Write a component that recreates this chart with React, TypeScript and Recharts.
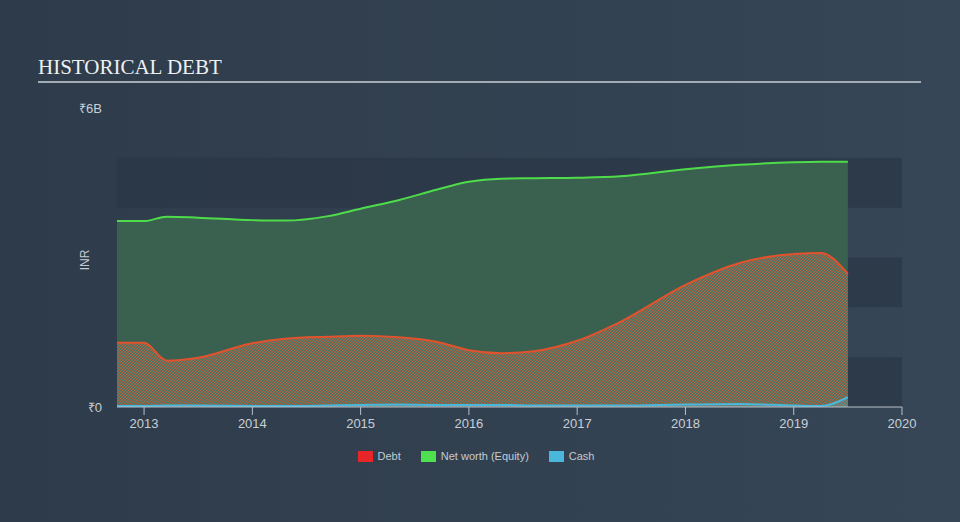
import React from 'react';
import { AreaChart, Area, XAxis, YAxis, ReferenceArea } from 'recharts';

const dates = [2012.75, 2013.0, 2013.21, 2013.5, 2014.0, 2014.3, 2014.7, 2015.0, 2015.35, 2015.7, 2016.0, 2016.3, 2016.6, 2017.0, 2017.4, 2018.0, 2018.5, 2019.0, 2019.25, 2019.5];
const netWorth = [3.73, 3.73, 3.82, 3.8, 3.75, 3.74, 3.83, 3.98, 4.15, 4.36, 4.52, 4.58, 4.59, 4.6, 4.63, 4.77, 4.86, 4.91, 4.92, 4.92];
const debt = [1.29, 1.29, 0.93, 0.99, 1.28, 1.37, 1.41, 1.43, 1.4, 1.31, 1.14, 1.08, 1.12, 1.33, 1.71, 2.45, 2.89, 3.07, 3.09, 2.67];
const cash = [0.02, 0.02, 0.03, 0.03, 0.02, 0.02, 0.03, 0.04, 0.05, 0.04, 0.04, 0.04, 0.03, 0.03, 0.03, 0.05, 0.06, 0.03, 0.02, 0.2];
const xTicks = [2013, 2014, 2015, 2016, 2017, 2018, 2019, 2020];
const yTicks = [0, 6];
const yTickLabels = ['₹0', '₹6B'];
const bands = [[0, 1], [2, 3], [4, 5]];
const legendItems = [
  { name: 'Debt', color: '#e8262a' },
  { name: 'Net worth (Equity)', color: '#4fe04f' },
  { name: 'Cash', color: '#49b8dc' },
];

const data = dates.map((d, i) => ({ date: d, netWorth: netWorth[i], debt: debt[i], cash: cash[i] }));

const font = '"Liberation Sans", Arial, sans-serif';

export default function App() {
  return (
    <div style={{ position: 'absolute', left: 0, top: 0, width: 960, height: 522, background: 'linear-gradient(to right, #2e3b4a, #364656)', overflow: 'hidden' }}>
      <div style={{ position: 'absolute', left: 38, top: 54, fontFamily: '"Liberation Serif", "Times New Roman", serif', fontSize: 21, color: '#eef0f2', lineHeight: '26px', whiteSpace: 'nowrap' }}>HISTORICAL DEBT</div>
      <div style={{ position: 'absolute', left: 38, top: 81, width: 883, height: 2, background: '#a3abb4' }} />
      <div style={{ position: 'absolute', left: 85, top: 260, transform: 'translate(-50%, -50%) rotate(-90deg)', fontFamily: font, fontSize: 12, color: '#c3cad2' }}>INR</div>
      <AreaChart width={960} height={522} data={data} margin={{ top: 108, right: 58, bottom: 85, left: 0 }}>
        <defs>
          <pattern id="hatch" patternUnits="userSpaceOnUse" width="3" height="3">
            <rect x="0" y="0" width="3" height="3" fill="#587060" />
            <path d="M0,3 L3,0 M-1,1 L1,-1 M2,4 L4,2" stroke="#b8643e" strokeWidth="1" />
          </pattern>
        </defs>
        {bands.map((b, i) => (
          <ReferenceArea key={i} y1={b[0]} y2={b[1]} fill="#2b3746" fillOpacity={0.75} stroke="none" ifOverflow="visible" />
        ))}
        <XAxis
          dataKey="date"
          type="number"
          domain={[2012.75, 2020]}
          ticks={xTicks}
          allowDataOverflow
          height={30}
          tickSize={8}
          tickMargin={4}
          stroke="#b8c0c8"
          axisLine={{ stroke: '#b8c0c8', strokeWidth: 1 }}
          tickLine={{ stroke: '#b8c0c8' }}
          tick={{ fill: '#c8cfd6', fontSize: 13, fontFamily: font }}
        />
        <YAxis
          type="number"
          domain={[0, 6]}
          ticks={yTicks}
          width={117}
          tickSize={0}
          tickMargin={15}
          axisLine={false}
          tickLine={false}
          tickFormatter={(v: number) => yTickLabels[yTicks.indexOf(v)]}
          tick={{ fill: '#c8cfd6', fontSize: 13, fontFamily: font }}
        />
        <Area type="monotone" dataKey="netWorth" stroke="#4edc4a" strokeWidth={2} fill="#3a614f" fillOpacity={1} isAnimationActive={false} dot={false} activeDot={false} />
        <Area type="monotone" dataKey="debt" stroke="#e2522c" strokeWidth={2} fill="url(#hatch)" fillOpacity={1} isAnimationActive={false} dot={false} activeDot={false} />
        <Area type="monotone" dataKey="cash" stroke="#49b8dc" strokeWidth={2} fill="#49b8dc" fillOpacity={0.25} isAnimationActive={false} dot={false} activeDot={false} />
      </AreaChart>
      <div style={{ position: 'absolute', left: 0, top: 448, width: 960, height: 16, display: 'flex', justifyContent: 'center', alignItems: 'center', fontFamily: font, fontSize: 11, color: '#c3cad2', paddingRight: 8, boxSizing: 'border-box' }}>
        {legendItems.map((it) => (
          <div key={it.name} style={{ display: 'flex', alignItems: 'center', margin: '0 10px' }}>
            <span style={{ display: 'inline-block', width: 15, height: 11, background: it.color, marginRight: 5 }} />
            <span>{it.name}</span>
          </div>
        ))}
      </div>
    </div>
  );
}
